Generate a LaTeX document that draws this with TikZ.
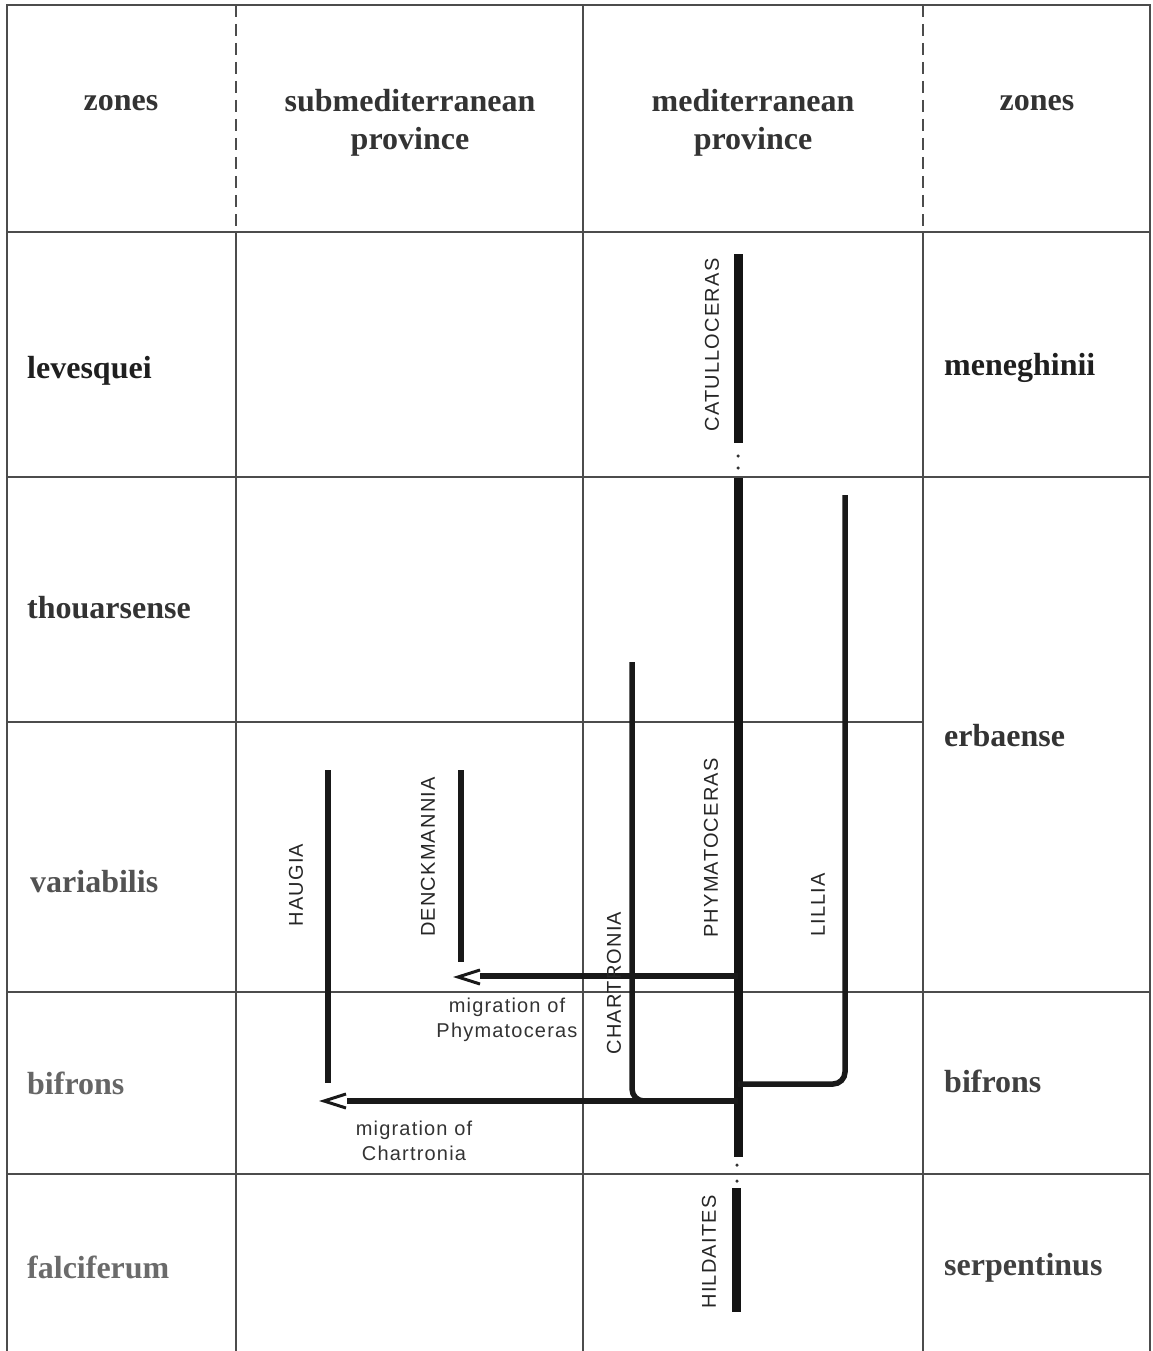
\documentclass[tikz,border=0pt]{standalone}
\usepackage{fontspec}
\setmainfont{Liberation Serif}
\newfontfamily\labfont[LetterSpace=6]{Liberation Sans}

\begin{document}
\begin{tikzpicture}[x=1pt,y=-1pt,
  gridline/.style={draw=black!70,line width=1.2pt},
  griddash/.style={gridline,dash pattern=on 12pt off 7pt},
  zonetext/.style={font=\fontsize{32}{38}\selectfont\bfseries,inner sep=0pt,anchor=base west},
  headtext/.style={font=\fontsize{32}{38}\selectfont\bfseries,text=black!80,inner sep=0pt,align=center},
  taxon/.style={font=\labfont\fontsize{20}{24}\selectfont,text=black!85,rotate=90,inner sep=0pt},
  migtext/.style={font=\labfont\fontsize{20}{25}\selectfont,text=black!80,inner sep=0pt,align=center},
  mainline/.style={draw=black!92,line width=9pt},
  branch/.style={draw=black!90,line width=5.5pt,rounded corners=12pt},
  chevron/.style={draw=black!90,line width=3pt},
  gapdot/.style={fill=black!80,circle,inner sep=0pt,minimum size=3.5pt}]
\useasboundingbox (0,0) rectangle (1152,1351);

% ---- table frame ----
\draw[gridline] (7,1351) -- (7,5) -- (1150,5) -- (1150,1351);
\draw[griddash] (236,5) -- (236,232);
\draw[griddash] (923,5) -- (923,232);
\draw[gridline] (236,232) -- (236,1351);
\draw[gridline] (923,232) -- (923,1351);
\draw[gridline] (583,5) -- (583,1351);
\draw[gridline] (7,232) -- (1150,232);
\draw[gridline] (7,477) -- (1150,477);
\draw[gridline] (7,722) -- (923,722);
\draw[gridline] (7,992) -- (1150,992);
\draw[gridline] (7,1174) -- (1150,1174);

% ---- header row ----
\node[headtext] (h1) at (121,111) [anchor=base] {zones};
\node[headtext] (h2) at (410,123) {submediterranean\\province};
\node[headtext] (h3) at (753,123) {mediterranean\\province};
\node[headtext] (h4) at (1037,111) [anchor=base] {zones};

% ---- zones, left column ----
\node[zonetext,text=black!88] (zl1) at (27,378) {levesquei};
\node[zonetext,text=black!80] (zl2) at (27,618) {thouarsense};
\node[zonetext,text=black!68] (zl3) at (30,892) {variabilis};
\node[zonetext,text=black!60] (zl4) at (27,1094) {bifrons};
\node[zonetext,text=black!58] (zl5) at (27,1278) {falciferum};

% ---- zones, right column ----
\node[zonetext,text=black!88] (zr1) at (944,375) {meneghinii};
\node[zonetext,text=black!80] (zr2) at (944,746) {erbaense};
\node[zonetext,text=black!75] (zr3) at (944,1092) {bifrons};
\node[zonetext,text=black!75] (zr4) at (944,1275) {serpentinus};

% ---- lineage end points ----
\coordinate (cat-top) at (738,254);
\coordinate (cat-bot) at (738,443);
\coordinate (phy-top) at (738,478);
\coordinate (phy-bot) at (738,1157);
\coordinate (hil-top) at (736,1188);
\coordinate (hil-bot) at (736,1312);
\coordinate (cha-top) at (632,662);
\coordinate (cha-foot) at (632,1101);
\coordinate (cha-join) at (738,1101);
\coordinate (lil-top) at (845,495);
\coordinate (lil-foot) at (845,1084);
\coordinate (lil-join) at (738,1084);
\coordinate (hau-top) at (328,770);
\coordinate (hau-bot) at (328,1083);
\coordinate (den-top) at (461,770);
\coordinate (den-bot) at (461,962);
\coordinate (mp-start) at (738,976);
\coordinate (mp-end) at (480,976);
\coordinate (mp-tip) at (458,977);
\coordinate (mc-end) at (347,1101);
\coordinate (mc-tip) at (324,1101);

% ---- main lineage ----
\draw[mainline] (cat-top) -- (cat-bot);
\draw[mainline] (phy-top) -- (phy-bot);
\draw[mainline] (hil-top) -- (hil-bot);
\node[gapdot] (d1) at (738,456) {};
\node[gapdot] (d2) at (738,468) {};
\node[gapdot] (d3) at (737,1165) {};
\node[gapdot] (d4) at (737,1181) {};

% ---- side branches ----
\draw[branch] (cha-top) -- (cha-foot) -- (cha-join);
\draw[branch] (lil-top) -- (lil-foot) -- (lil-join);
\draw[branch] (hau-top) -- (hau-bot);
\draw[branch] (den-top) -- (den-bot);

% ---- migrations ----
\draw[branch] (mp-start) -- (mp-end);
\draw[chevron] ([xshift=22pt,yshift=-7pt]mp-tip) -- (mp-tip) -- ([xshift=22pt,yshift=7pt]mp-tip);
\draw[branch] (cha-join) -- (mc-end);
\draw[chevron] ([xshift=22pt,yshift=-7pt]mc-tip) -- (mc-tip) -- ([xshift=22pt,yshift=7pt]mc-tip);

% ---- genus labels ----
\node[taxon] (t-cat) at (712,345) {CATULLOCERAS};
\node[taxon] (t-phy) at (711,848) {PHYMATOCERAS};
\node[taxon] (t-lil) at (818,905) {LILLIA};
\node[taxon] (t-cha) at (614,983) {CHARTRONIA};
\node[taxon] (t-hau) at (296,885) {HAUGIA};
\node[taxon] (t-den) at (428,857) {DENCKMANNIA};
\node[taxon] (t-hil) at (709,1252) {HILDAITES};

\node[migtext] (m1) at (507,1020) {migration of\\Phymatoceras};
\node[migtext] (m2) at (414,1141) {migration of\\Chartronia};
\end{tikzpicture}
\end{document}
